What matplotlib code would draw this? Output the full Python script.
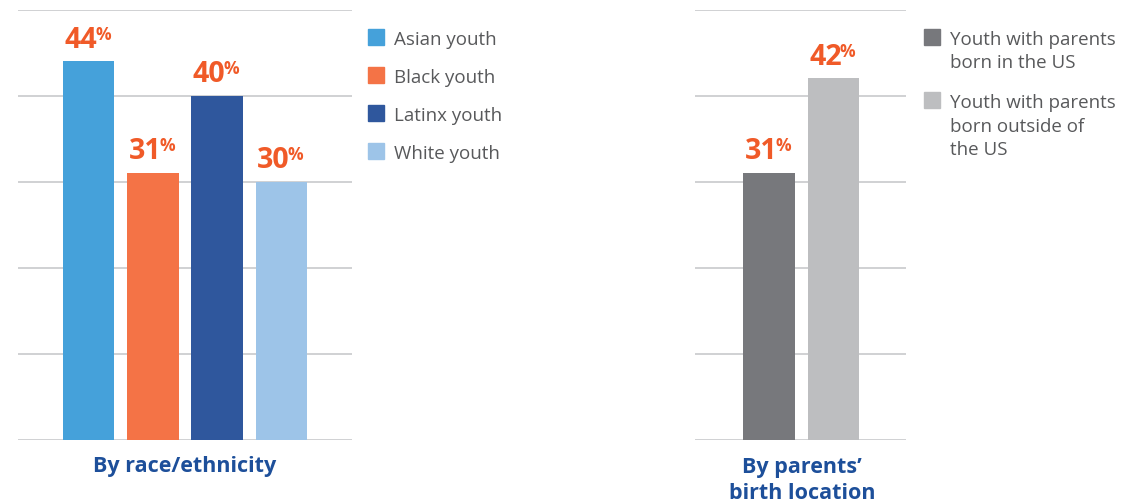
#!/usr/bin/env python3
"""Share of youth by race/ethnicity and by parents' birth location."""

import matplotlib

matplotlib.use("Agg")
import matplotlib.pyplot as plt
from matplotlib.patches import Rectangle

plt.rcParams["font.family"] = ["Open Sans", "DejaVu Sans"]

race_labels = ["Asian youth", "Black youth", "Latinx youth", "White youth"]
race_values = [44, 31, 40, 30]
race_colors = ["#45A1DA", "#F47346", "#2F579D", "#9DC4E8"]

parent_labels = ["Youth with parents\nborn in the US",
                 "Youth with parents\nborn outside of\nthe US"]
parent_values = [31, 42]
parent_colors = ["#77787C", "#BDBEC0"]

race_title = "By race/ethnicity"
parent_title = "By parents’\nbirth location"

VALUE_COLOR = "#F05A28"
TITLE_COLOR = "#1D4F9A"
TEXT_COLOR = "#58595B"
GRID_COLOR = "#D0D1D3"

W, H = 1148, 503
fig = plt.figure(figsize=(W / 100, H / 100), dpi=100)


def px_axes(left, top, right, bottom):
    return fig.add_axes([left / W, 1 - bottom / H, (right - left) / W, (bottom - top) / H])


def style(ax):
    ax.set_ylim(0, 50)
    ax.set_yticks(range(0, 51, 10))
    ax.yaxis.grid(True, color=GRID_COLOR, lw=1.4)
    ax.set_axisbelow(True)
    ax.tick_params(length=0, labelleft=False, labelbottom=False)
    ax.set_xticks([])
    for s in ax.spines.values():
        s.set_visible(False)


def value_labels(ax, xs, values):
    big, small = 20.5, 12.5
    cap = 0.714  # Open Sans cap height / em
    for x, v in zip(xs, values):
        num = ax.annotate(str(v), (x, v), xytext=(0, 13.5), textcoords="offset pixels",
                          ha="center", va="baseline", fontsize=big, fontweight="bold",
                          color=VALUE_COLOR)
        pct = ax.annotate("%", (x, v), xytext=(0, 13.5), textcoords="offset pixels",
                          ha="left", va="baseline", fontsize=small, fontweight="bold",
                          color=VALUE_COLOR)
        fig.canvas.draw()
        r = fig.canvas.get_renderer()
        wn = num.get_window_extent(r).width
        wp = pct.get_window_extent(r).width
        num.set_position((-wp / 2, 13.5))
        rise = (big - small) * cap * 100 / 72
        pct.set_position((wn / 2 - wp / 2 - 2, 13.5 + rise))


def lines_at(x, baseline, text, step, **kw):
    # one text per line so the first baseline sits exactly where asked
    for i, line in enumerate(text.split("\n")):
        fig.text(x / W, 1 - (baseline + i * step) / H, line, va="baseline", **kw)


def legend(x0, tops, labels, colors):
    for top, lab, col in zip(tops, labels, colors):
        fig.patches.append(Rectangle((x0 / W, 1 - (top + 15.5) / H), 16 / W, 15.5 / H,
                                     transform=fig.transFigure, color=col))
        lines_at(x0 + 26, top + 16, lab, 23.5, ha="left", fontsize=13.5, color=TEXT_COLOR)


# race/ethnicity panel
ax1 = px_axes(18, 9.5, 352, 439.5)
style(ax1)
x1 = list(range(len(race_values)))
ax1.bar(x1, race_values, width=0.8, color=race_colors)
ax1.set_xlim(-1.1, len(race_values) - 1 + 1.1)
value_labels(ax1, x1, race_values)
lines_at(185, 472, race_title, 26.5, ha="center", fontsize=15.5,
         fontweight="bold", color=TITLE_COLOR)
legend(368, [29, 67, 105, 143], race_labels, race_colors)

# parents' birth location panel
ax2 = px_axes(695, 9.5, 906, 439.5)
style(ax2)
x2 = list(range(len(parent_values)))
ax2.bar(x2, parent_values, width=0.8, color=parent_colors)
ax2.set_xlim(-1.15, len(parent_values) - 1 + 1.13)
value_labels(ax2, x2, parent_values)
lines_at(802, 472.5, parent_title, 26.5, ha="center", fontsize=15.5,
         fontweight="bold", color=TITLE_COLOR)
legend(924, [29, 92], parent_labels, parent_colors)

fig.savefig("out.png", dpi=100)
